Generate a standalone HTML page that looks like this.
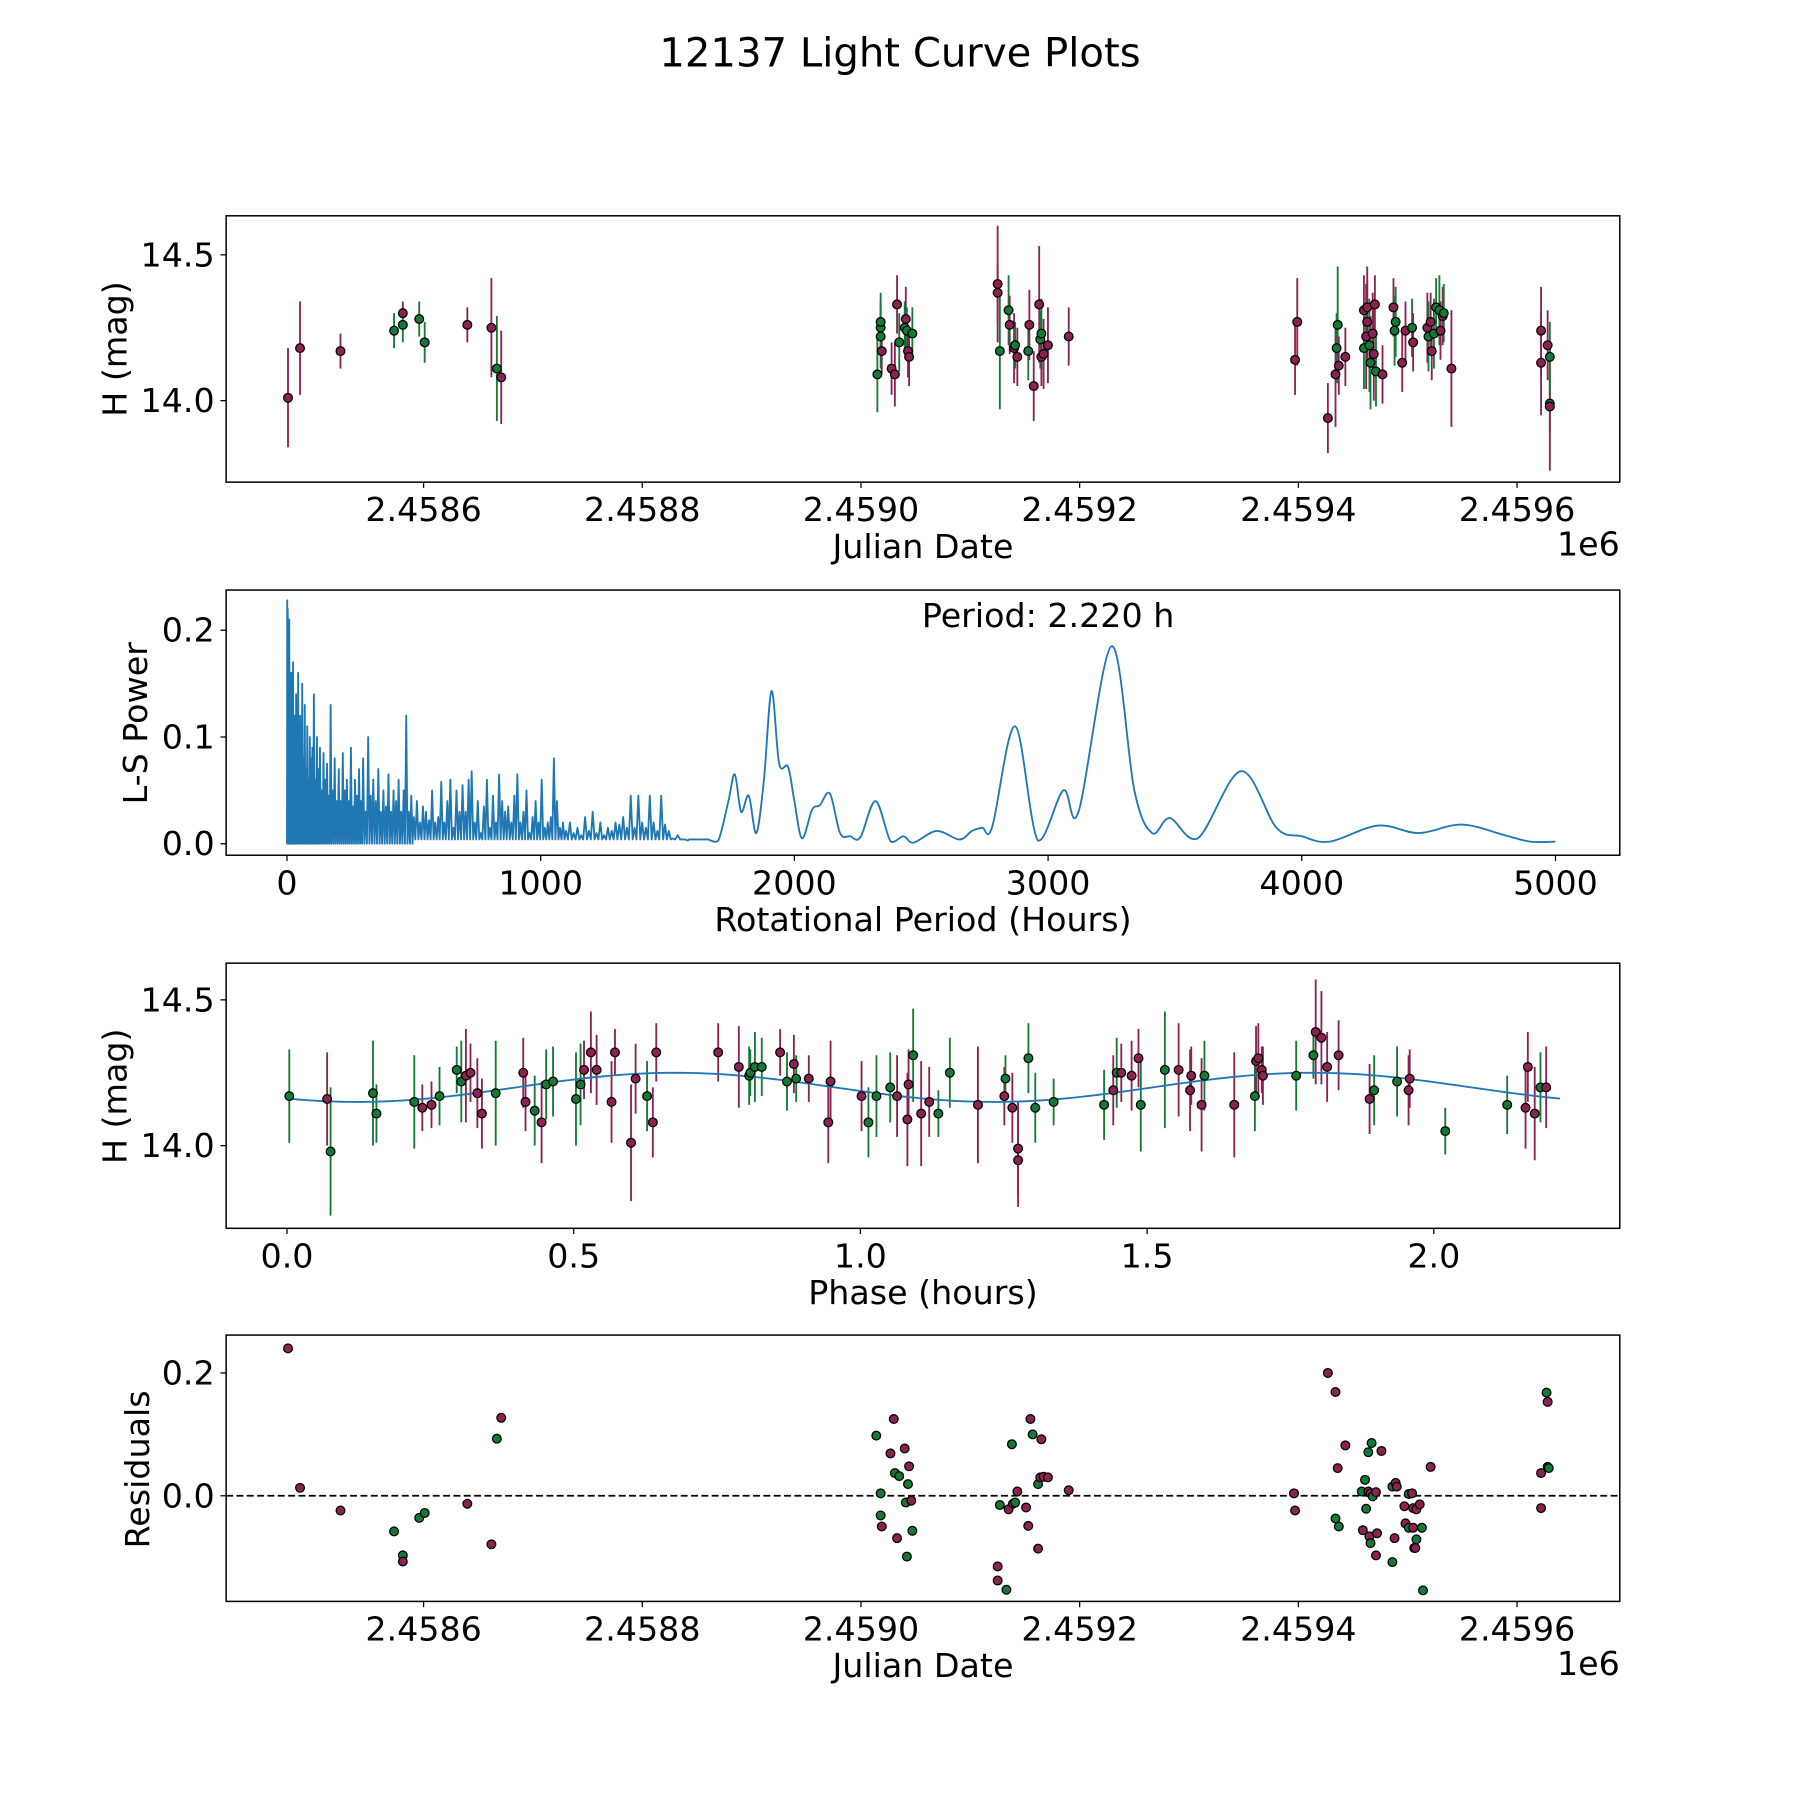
<!DOCTYPE html>
<html><head><meta charset="utf-8"><title>12137 Light Curve Plots</title>
<style>html,body{margin:0;padding:0;background:#fff}svg{display:block;font-family:"DejaVu Sans","Liberation Sans",sans-serif}</style>
</head><body>
<svg id="fig" width="1800" height="1800" viewBox="0 0 1568 1568" xmlns="http://www.w3.org/2000/svg">
<text x="784" y="58" font-size="35" text-anchor="middle">12137 Light Curve Plots</text>
</svg>
<script>
// ---------------- DATA ----------------
const lcJD=[-124,-113,-76,-27,-19,-19,-4,1,40,62,67,71,
 415,418,418,418,419,428,431,433,435,440,441,442,443,444,447,
 525,525,527,535,536,540,541,543,553,554,558,563,564,565,565,567,571,590,
 797,799,827,834,835,836,837,843,860,860,862,863,863,865,866,868,869,870,871,877,887,888,889,895,898,904,905,918,919,921,922,924,926,929,930,932,933,940,
 1022,1022,1028,1030,1030,1030,1036];
const lcMag=[14.01,14.18,14.17,14.24,14.30,14.26,14.28,14.20,14.26,14.25,14.11,14.08,
 14.09,14.22,14.25,14.27,14.17,14.11,14.09,14.33,14.20,14.25,14.28,14.24,14.17,14.15,14.23,
 14.40,14.37,14.17,14.31,14.26,14.18,14.19,14.15,14.17,14.26,14.05,14.33,14.21,14.23,14.15,14.16,14.19,14.22,
 14.14,14.27,13.94,14.09,14.18,14.26,14.12,14.15,14.31,14.18,14.22,14.27,14.32,14.19,14.13,14.23,14.16,14.33,14.10,14.09,14.32,14.24,14.27,14.13,14.24,14.25,14.20,14.25,14.22,14.27,14.17,14.23,14.32,14.31,14.24,14.29,14.30,
 14.11,14.24,14.13,14.19,13.99,13.98,14.15];
const lcErr=[0.17,0.16,0.06,0.06,0.04,0.06,0.06,0.07,0.06,0.17,0.18,0.16,
 0.13,0.11,0.09,0.1,0.08,0.09,0.11,0.1,0.1,0.09,0.11,0.08,0.09,0.1,0.09,
 0.2,0.1,0.2,0.12,0.1,0.12,0.08,0.1,0.1,0.12,0.12,0.2,0.1,0.12,0.1,0.12,0.13,0.1,
 0.12,0.15,0.12,0.18,0.12,0.2,0.1,0.1,0.12,0.14,0.18,0.14,0.14,0.16,0.16,0.14,0.16,0.1,0.12,0.1,0.1,0.12,0.12,0.1,0.1,0.1,0.1,0.12,0.12,0.1,0.1,0.12,0.1,0.12,0.1,0.1,0.1,
 0.2,0.15,0.18,0.12,0.1,0.22,0.12];
const lcFilt=["r","r","r","g","r","g","g","g","r","r","g","r",
 "g","g","g","g","r","r","r","r","g","g","r","g","r","r","g",
 "r","r","g","g","r","r","g","r","g","r","r","r","g","g","r","r","r","r",
 "r","r","r","r","g","g","r","r","r","g","r","r","r","g","g","r","r","r","g","r","r","g","g","r","r","g","r","r","g","r","r","g","g","g","r","r","g",
 "r","r","r","r","g","r","g"];

const resJD=[-124,-113,-76,-27,-19,-19,-4,1,40,62,67,71,
 414,418,418,419,427,430,431,433,435,440,441,442,443,444,446,447,
 525,525,527,533,535,538,539,541,543,551,553,555,557,562,562,564,565,567,571,590,
 796,797,827,834,834,836,837,843,858,859,861,862,864,864,865,866,866,867,868,871,871,872,876,886,886,888,889,890,897,898,901,901,904,905,905,906,907,908,908,911,913,914,921,
 1022,1022,1027,1028,1028,1029,1036];
const resVal=[0.24,0.013,-0.024,-0.058,-0.097,-0.107,-0.036,-0.028,-0.013,-0.079,0.093,0.127,
 0.098,0.004,-0.032,-0.05,0.069,0.125,0.037,-0.069,0.032,0.077,-0.011,-0.099,0.019,0.048,-0.008,-0.057,
 -0.115,-0.138,-0.015,-0.153,-0.022,0.084,-0.013,-0.011,0.007,-0.019,-0.049,0.125,0.1,-0.086,0.019,0.03,0.092,0.031,0.03,0.009,
 0.004,-0.024,0.2,0.169,-0.037,0.045,-0.05,0.082,0.007,-0.056,0.026,-0.021,0.071,0.007,-0.066,0.004,-0.077,0.086,-0.001,0.006,-0.097,-0.061,0.073,0.015,-0.108,-0.069,0.021,0.015,-0.017,-0.045,-0.052,0.003,0.004,-0.02,-0.052,-0.085,-0.085,-0.071,-0.022,-0.014,-0.052,-0.154,
 0.047,-0.02,0.037,0.168,0.153,0.047,0.045];
const resFilt=["r","r","r","g","g","r","g","g","r","r","g","r",
 "g","g","g","r","r","r","g","r","g","r","g","g","g","r","r","g",
 "r","r","g","g","r","g","r","g","r","r","r","r","g","r","g","r","r","r","r","r",
 "r","r","r","r","g","r","g","r","g","r","g","g","g","r","r","r","g","g","g","r","r","r","r","g","g","r","r","r","r","r","g","g","r","r","r","g","r","g","r","r","g","g",
 "r","r","r","g","r","g","g"];

const phP=[0.004,0.07,0.076,0.15,0.156,0.222,0.236,0.252,0.266,0.296,0.304,0.312,0.32,0.332,0.34,0.364,0.412,0.416,0.432,0.444,0.452,0.464,0.504,0.512,0.518,0.53,0.54,0.566,0.572,0.6,0.608,0.628,0.638,0.644,0.752,0.788,0.806,0.808,0.816,0.828,0.86,0.872,0.884,0.888,0.91,0.944,0.948,1.002,1.014,1.028,1.052,1.064,1.082,1.084,1.092,1.106,1.12,1.136,1.156,1.205,1.251,1.253,1.265,1.275,1.275,1.293,1.305,1.337,1.425,1.441,1.447,1.455,1.473,1.485,1.489,1.531,1.555,1.575,1.577,1.595,1.6,1.652,1.688,1.69,1.694,1.7,1.702,1.76,1.79,1.794,1.804,1.814,1.834,1.888,1.896,1.936,1.956,1.958,2.02,2.128,2.16,2.164,2.176,2.186,2.196];
const phMag=[14.17,14.16,13.98,14.18,14.11,14.15,14.13,14.14,14.17,14.26,14.22,14.24,14.25,14.18,14.11,14.18,14.25,14.15,14.12,14.08,14.21,14.22,14.16,14.21,14.26,14.32,14.26,14.15,14.32,14.01,14.23,14.17,14.08,14.32,14.32,14.27,14.24,14.25,14.27,14.27,14.32,14.22,14.28,14.23,14.23,14.08,14.22,14.17,14.08,14.17,14.2,14.17,14.09,14.21,14.31,14.11,14.15,14.11,14.25,14.14,14.17,14.23,14.13,13.99,13.95,14.3,14.13,14.15,14.14,14.19,14.25,14.25,14.24,14.3,14.14,14.26,14.26,14.19,14.24,14.14,14.24,14.14,14.17,14.29,14.3,14.26,14.24,14.24,14.31,14.39,14.37,14.27,14.31,14.16,14.19,14.22,14.19,14.23,14.05,14.14,14.13,14.27,14.11,14.2,14.2];
const phErr=[0.16,0.16,0.22,0.18,0.1,0.16,0.08,0.08,0.1,0.08,0.14,0.16,0.1,0.12,0.12,0.18,0.12,0.1,0.12,0.14,0.12,0.12,0.16,0.14,0.1,0.14,0.12,0.14,0.08,0.2,0.12,0.12,0.12,0.1,0.1,0.14,0.1,0.08,0.12,0.1,0.08,0.1,0.1,0.08,0.08,0.14,0.14,0.12,0.12,0.14,0.12,0.14,0.16,0.12,0.16,0.18,0.12,0.08,0.12,0.2,0.1,0.08,0.12,0.16,0.16,0.12,0.12,0.08,0.12,0.12,0.12,0.1,0.12,0.1,0.16,0.2,0.16,0.14,0.1,0.16,0.12,0.18,0.12,0.12,0.12,0.08,0.1,0.12,0.08,0.18,0.16,0.12,0.12,0.12,0.12,0.12,0.12,0.1,0.08,0.1,0.14,0.12,0.16,0.12,0.14];
const phFilt=["g","r","g","g","g","g","r","r","g","g","g","r","r","r","r","g","r","r","g","r","g","g","g","g","r","r","r","r","r","r","r","g","r","r","r","r","g","g","g","g","r","g","r","g","r","r","r","r","g","g","g","r","r","r","g","r","r","g","g","r","r","g","r","r","r","g","g","g","g","r","g","r","r","r","g","g","r","r","r","r","g","r","g","r","r","r","r","g","g","r","r","r","r","r","g","g","r","r","g","g","r","r","r","g","r"];
const fitMean=[14.2];
const fitAmp=[0.05];
const fitPer=[1.11];
const fitOff=[0.4];

const spikeP=[1,3,5,7,9,11,13,15,18,21,24,27,30,33,36,40,44,48,52,56,60,65,70,75,80,85,90,95,100,106,112,118,124,130,137,144,151,158,165,172,180,188,196,204,212,220,228,236,244,252,260,268,276,284,292,300,310,320,330,340,350,360,370,380,390,400,410,420,430,440,450,460,470,480,490,500,512,524,536,548,560,572,584,596,608,620,632,644,656,668,680,692,704,716,728,740,752,764,776,788,800,812,824,836,848,860,872,884,896,908,920,932,944,956,968,980,992,1004,1016,1028,1040,1052,1064,1076,1088,1100,1115,1130,1145,1160,1175,1190,1205,1220,1235,1250,1265,1280,1295,1310,1325,1340,1355,1370,1385,1400,1415,1430,1445,1460,1475,1490,1505,1520,1540,1560,1580,1600,1620,1640];
const spikeH=[0.228,0.22,0.2,0.16,0.21,0.15,0.16,0.12,0.16,0.13,0.17,0.09,0.12,0.11,0.14,0.08,0.16,0.1,0.12,0.09,0.15,0.08,0.13,0.07,0.11,0.06,0.1,0.08,0.09,0.14,0.06,0.1,0.07,0.09,0.05,0.085,0.06,0.075,0.045,0.13,0.05,0.08,0.04,0.07,0.04,0.085,0.05,0.06,0.04,0.09,0.035,0.06,0.045,0.07,0.04,0.08,0.03,0.1,0.045,0.06,0.04,0.07,0.03,0.05,0.035,0.065,0.03,0.05,0.04,0.06,0.03,0.05,0.12,0.03,0.045,0.025,0.04,0.02,0.035,0.03,0.022,0.05,0.02,0.025,0.058,0.02,0.04,0.06,0.015,0.05,0.03,0.055,0.03,0.06,0.068,0.02,0.04,0.01,0.035,0.06,0.015,0.045,0.02,0.065,0.04,0.03,0.035,0.02,0.045,0.065,0.02,0.03,0.05,0.01,0.025,0.04,0.02,0.06,0.015,0.02,0.025,0.08,0.04,0.015,0.02,0.012,0.02,0.01,0.015,0.008,0.025,0.012,0.03,0.01,0.02,0.008,0.015,0.012,0.02,0.018,0.025,0.015,0.045,0.015,0.045,0.02,0.015,0.045,0.02,0.012,0.045,0.018,0.012,0.005,0.008,0.004,0.003];
const smoothP=[1660,1700,1740,1765,1790,1820,1850,1880,1910,1940,1975,2000,2030,2070,2100,2140,2180,2220,2260,2320,2380,2430,2470,2560,2650,2700,2740,2780,2870,2960,3060,3120,3250,3340,3410,3480,3590,3760,3900,4000,4110,4300,4460,4630,4800,4900,5000];
const smoothH=[0.004,0.003,0.04,0.065,0.03,0.045,0.01,0.06,0.143,0.075,0.072,0.04,0.005,0.032,0.036,0.047,0.01,0.007,0.006,0.04,0.002,0.007,0.001,0.012,0.004,0.012,0.015,0.016,0.11,0.003,0.05,0.03,0.185,0.05,0.01,0.024,0.005,0.068,0.015,0.007,0.002,0.017,0.01,0.018,0.008,0.002,0.002];

const jdTicks=[2.4586,2.4588,2.4590,2.4592,2.4594,2.4596];
const magTicks=[14.0,14.5];
const powTicks=[0.0,0.1,0.2];
const perTicks=[0,1000,2000,3000,4000,5000];
const phTicks=[0.0,0.5,1.0,1.5,2.0];
const resTicks=[0.0,0.2];

// ---------------- DRAWING ----------------
const NS="http://www.w3.org/2000/svg";
const svg=document.getElementById('fig');
const RED="#8b2252", GRN="#137a35", BLUE="#1f77b4";
function mk(tag,attrs,parent){const e=document.createElementNS(NS,tag);for(const k in attrs)e.setAttribute(k,attrs[k]);(parent||svg).appendChild(e);return e;}
function txt(s,attrs,parent){const e=mk('text',attrs,parent);e.textContent=s;return e;}
const L=197,R=1411;
const jdX=d=>369+d*0.9525;
const jdTickX=v=>369+(v-2.4586)*1e6*0.9525;
function frame(top,bot,name){
  const g=mk('g',{});
  
  
  const r=mk('rect',{x:L,y:top,width:R-L,height:bot-top,fill:'none',stroke:'#000','stroke-width':1.3},g);
  
  
  return g;
}
function xticks(g,ticks,fx,bot,fmt,name){
  ticks.forEach(v=>{const x=fx(v);
    mk('line',{x1:x,x2:x,y1:bot,y2:bot+5,stroke:'#000','stroke-width':1.1},g);
    const t=txt(fmt(v),{x:x,y:bot+34,'font-size':29,'text-anchor':'middle'},g);
    
    
  });
}
function yticks(g,ticks,fy,fmt,name){
  ticks.forEach(v=>{const y=fy(v);
    mk('line',{x1:L,x2:L-5,y1:y,y2:y,stroke:'#000','stroke-width':1.1},g);
    const t=txt(fmt(v),{x:L-10,y:y+10,'font-size':29,'text-anchor':'end'},g);
    
    
  });
}
function ylabel(g,s,x,y,name){const t=txt(s,{x:x,y:y,'font-size':29,'text-anchor':'middle',transform:`rotate(-90 ${x} ${y})`},g);
  
  }
function xlabel(g,s,y,name){const t=txt(s,{x:804,y:y,'font-size':29,'text-anchor':'middle'},g);
  
  }
function point(g,x,y,c,name){if(!isFinite(x)||!isFinite(y))return;const p=mk('circle',{cx:x,cy:y,r:3.8,fill:c,stroke:'#000','stroke-width':1.1},g);
  
  }
function ebar(g,x,y1,y2,c){if(!isFinite(x)||!isFinite(y1)||!isFinite(y2))return;const l=mk('line',{x1:x,x2:x,y1:y1,y2:y2,stroke:c,'stroke-width':1.6},g);
  
  }
const col=f=>f==='g'?GRN:RED;

// Panel 1
{
  const top=188,bot=420; const magY=m=>349-(m-14)*254;
  const g=frame(top,bot,'light-curve-panel');
  xticks(g,jdTicks,jdTickX,bot,v=>v.toFixed(4),'jd-x');
  yticks(g,magTicks,magY,v=>v.toFixed(1),'mag-y');
  ylabel(g,'H (mag)',110,304,'light-curve-y-axis-title');
  xlabel(g,'Julian Date',486,'light-curve-x-axis-title');
  const e=txt('1e6',{x:R,y:484,'font-size':29,'text-anchor':'end'},g);
  
  
  const n=Math.min(lcJD.length,lcMag.length,lcErr.length);
  for(let i=0;i<n;i++){ebar(g,jdX(lcJD[i]),magY(lcMag[i]-lcErr[i]),magY(lcMag[i]+lcErr[i]),col(lcFilt[i]));}
  for(let i=0;i<n;i++){point(g,jdX(lcJD[i]),magY(lcMag[i]),col(lcFilt[i]),'light-curve-point');}
}
// Panel 2
{
  const top=514,bot=745; const px=p=>250+p*0.221; const py=v=>735-v*930;
  const g=frame(top,bot,'periodogram-panel');
  xticks(g,perTicks,px,bot,v=>String(v),'period-x');
  yticks(g,powTicks,py,v=>v.toFixed(1),'power-y');
  ylabel(g,'L-S Power',128,630,'periodogram-y-axis-title');
  xlabel(g,'Rotational Period (Hours)',811,'periodogram-x-axis-title');
  let d=`M${px(0)},${py(0)}`;
  const ns=Math.min(spikeP.length,spikeH.length);
  for(let i=0;i<ns;i++){
    const p=spikeP[i];
    if(p>=smoothP[0])break;
    const nx=i+1<ns?spikeP[i+1]:p+10;
    const base=p<500?0:0.004;
    d+=` L${px(p)},${py(spikeH[i])} L${px((p+nx)/2)},${py(base)}`;
  }
  const pts=smoothP.map((p,i)=>[px(p),py(smoothH[i])]);
  d+=` L${pts[0][0]},${pts[0][1]}`;
  for(let i=0;i<pts.length-1;i++){
    const p0=pts[Math.max(0,i-1)],p1=pts[i],p2=pts[i+1],p3=pts[Math.min(pts.length-1,i+2)];
    const c1=[p1[0]+(p2[0]-p0[0])/6,p1[1]+(p2[1]-p0[1])/6];
    const c2=[p2[0]-(p3[0]-p1[0])/6,p2[1]-(p3[1]-p1[1])/6];
    d+=` C${c1[0]},${Math.min(c1[1],735)} ${c2[0]},${Math.min(c2[1],735)} ${p2[0]},${p2[1]}`;
  }
  const path=mk('path',{d:d,fill:'none',stroke:BLUE,'stroke-width':1.6,'stroke-linejoin':'round'},g);
  
  
  const t=txt('Period: 2.220 h',{x:913,y:546,'font-size':29,'text-anchor':'middle'},g);
  
  
}
// Panel 3
{
  const top=839,bot=1070; const px=p=>250+p*499.5; const py=m=>998-(m-14)*254;
  const g=frame(top,bot,'phase-panel');
  xticks(g,phTicks,px,bot,v=>v.toFixed(1),'phase-x');
  yticks(g,magTicks,py,v=>v.toFixed(1),'phase-mag-y');
  ylabel(g,'H (mag)',110,955,'phase-y-axis-title');
  xlabel(g,'Phase (hours)',1136,'phase-x-axis-title');
  const n=Math.min(phP.length,phMag.length,phErr.length);
  for(let i=0;i<n;i++){ebar(g,px(phP[i]),py(phMag[i]-phErr[i]),py(phMag[i]+phErr[i]),col(phFilt[i]));}
  let d='';
  for(let k=0;k<=222;k++){const p=k/100;const m=fitMean[0]+fitAmp[0]*Math.sin(2*Math.PI*(p-fitOff[0])/fitPer[0]);d+=(k?' L':'M')+px(p)+','+py(m);}
  const f=mk('path',{d:d,fill:'none',stroke:BLUE,'stroke-width':1.6},g);
  
  
  for(let i=0;i<n;i++){point(g,px(phP[i]),py(phMag[i]),col(phFilt[i]),'phase-point');}
}
// Panel 4
{
  const top=1163,bot=1395; const ry=v=>1303-v*535;
  const g=frame(top,bot,'residuals-panel');
  xticks(g,jdTicks,jdTickX,bot,v=>v.toFixed(4),'res-jd-x');
  yticks(g,resTicks,ry,v=>v.toFixed(1),'res-y');
  ylabel(g,'Residuals',130,1280,'residuals-y-axis-title');
  xlabel(g,'Julian Date',1461,'residuals-x-axis-title');
  const e=txt('1e6',{x:R,y:1459,'font-size':29,'text-anchor':'end'},g);
  
  
  const z=mk('line',{x1:L,x2:R,y1:ry(0),y2:ry(0),stroke:'#000','stroke-width':1.5,'stroke-dasharray':'6,3'},g);
  
  
  const n=Math.min(resJD.length,resVal.length);
  for(let i=0;i<n;i++){point(g,jdX(resJD[i]),ry(resVal[i]),col(resFilt[i]),'residual-point');}
}
</script>
</body></html>
